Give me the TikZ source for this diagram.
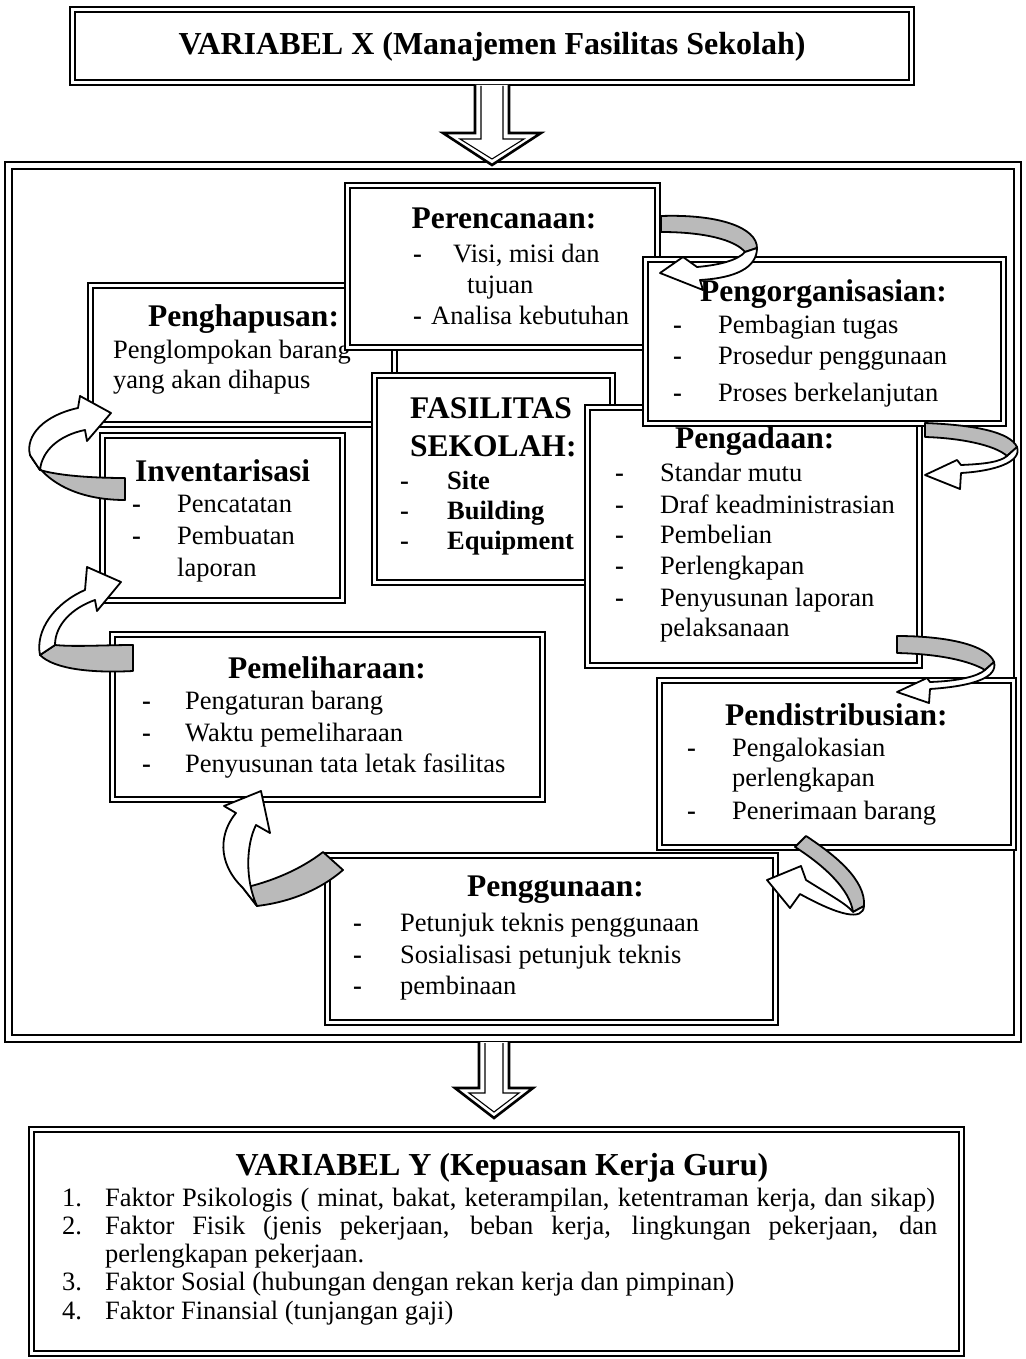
\documentclass[tikz,border=0pt]{standalone}
\usepackage{fontspec}
\setmainfont{Liberation Serif}
\usetikzlibrary{fit}
\newcommand\dbbox[6][5]{%
  \node[outerbox, fit={(#3,#4) (#5,#6)}] (#2) {};
  \draw[innerline] ([shift={(#1,#1)}]#2.north west) rectangle ([shift={(-#1,-#1)}]#2.south east);}
\newcommand\myhead[5][west]{\node[headtxt,anchor=#1] (#2) at (#3,#4) {#5};}
\newcommand\myline[4]{\node[bodytxt,anchor=west] (#1) at (#2,#3) {#4};}
\newcommand\mydash[3]{\node[bodytxt,anchor=west] (#1) at (#2,#3) {\textbf{-}};}
\begin{document}
\begin{tikzpicture}[x=1pt,y=-1pt,
  outerbox/.style={draw=black, line width=2.6pt, fill=white, inner sep=0pt, outer sep=0pt},
  innerline/.style={draw=black, line width=1.1pt},
  headtxt/.style={font=\fontsize{31.5}{36}\selectfont\bfseries, inner sep=0pt, text height=23pt, text depth=6pt},
  titletxt/.style={font=\fontsize{32}{36}\selectfont\bfseries, inner sep=0pt, text height=23pt, text depth=6pt},
  bodytxt/.style={font=\fontsize{26.5}{31}\selectfont, inner sep=0pt, text height=19pt, text depth=6pt},
  boldbody/.style={bodytxt, font=\fontsize{26.5}{31}\selectfont\bfseries},
  bigarrow/.style={draw=black, line width=2.6pt, line join=miter, fill=white},
  bigarrowin/.style={draw=black, line width=1.1pt},
  ribbonback/.style={fill=black!27, draw=black, line width=1.8pt, line join=round},
  ribbonfront/.style={fill=white, draw=black, line width=1.8pt, line join=round}]
\useasboundingbox (0,0) rectangle (1025,1359);
\fill[white] (0,0) rectangle (1025,1359);

% ---------- outer frame and top box ----------
\dbbox[7]{frame}{5}{162}{1021}{1042}
\dbbox{topbox}{70}{7}{914}{85}
\node[titletxt] (toptitle) at (492,46) {VARIABEL X (Manajemen Fasilitas Sekolah)};

% top block arrow
\draw[bigarrow] (475,85) -- (475,133) -- (443,133) -- (492,165) -- (541,133) -- (509,133) -- (509,85);
\draw[bigarrowin] (481,86) -- (481,139) -- (460,139) -- (492,159) -- (524,139) -- (503,139) -- (503,86);

% ---------- Penghapusan ----------
\dbbox{hapus}{88}{283}{397}{427}
\myhead{hapusH}{148}{318}{Penghapusan:}
\myline{hapus1}{113}{352}{Penglompokan barang}
\myline{hapus2}{113}{382}{yang akan dihapus}

% ---------- Perencanaan ----------
\dbbox{renc}{345}{183}{660}{350}
\myhead[center]{rencH}{504}{220}{Perencanaan:}
\mydash{rencD1}{413}{256}
\myline{renc1}{453}{256}{Visi, misi dan}
\myline{renc2}{467}{287}{tujuan}
\mydash{rencD2}{413}{318}
\myline{renc3}{431}{318}{Analisa kebutuhan}

% ---------- Fasilitas sekolah ----------
\dbbox{fas}{372}{373}{615}{585}
\myhead{fasH1}{410}{410}{FASILITAS}
\myhead{fasH2}{410}{448}{SEKOLAH:}
\node[boldbody,anchor=west] (fasD1) at (400,483) {-};
\node[boldbody,anchor=west] (fas1) at (447,483) {Site};
\node[boldbody,anchor=west] (fasD2) at (400,513) {-};
\node[boldbody,anchor=west] (fas2) at (447,513) {Building};
\node[boldbody,anchor=west] (fasD3) at (400,543) {-};
\node[boldbody,anchor=west] (fas3) at (447,543) {Equipment};

% ---------- Pengadaan ----------
\dbbox{adaan}{585}{405}{922}{668}
\myhead{adaanH}{675}{440}{Pengadaan:}
\mydash{adaanD1}{615}{475}\myline{adaan1}{660}{475}{Standar mutu}
\mydash{adaanD2}{615}{507}\myline{adaan2}{660}{507}{Draf keadministrasian}
\mydash{adaanD3}{615}{537}\myline{adaan3}{660}{537}{Pembelian}
\mydash{adaanD4}{615}{568}\myline{adaan4}{660}{568}{Perlengkapan}
\mydash{adaanD5}{615}{600}\myline{adaan5}{660}{600}{Penyusunan laporan}
\myline{adaan6}{660}{630}{pelaksanaan}

% ---------- Pengorganisasian ----------
\dbbox{org}{643}{257}{1006}{426}
\myhead{orgH}{700}{293}{Pengorganisasian:}
\mydash{orgD1}{673}{327}\myline{org1}{718}{327}{Pembagian tugas}
\mydash{orgD2}{673}{358}\myline{org2}{718}{358}{Prosedur penggunaan}
\mydash{orgD3}{673}{395}\myline{org3}{718}{395}{Proses berkelanjutan}

% ---------- Inventarisasi ----------
\dbbox{inv}{100}{433}{345}{603}
\myhead{invH}{135}{473}{Inventarisasi}
\mydash{invD1}{132}{506}\myline{inv1}{177}{506}{Pencatatan}
\mydash{invD2}{132}{538}\myline{inv2}{177}{538}{Pembuatan}
\myline{inv3}{177}{570}{laporan}

% ---------- Pemeliharaan ----------
\dbbox{pel}{110}{632}{545}{802}
\myhead{pelH}{228}{670}{Pemeliharaan:}
\mydash{pelD1}{142}{703}\myline{pel1}{185}{703}{Pengaturan barang}
\mydash{pelD2}{142}{735}\myline{pel2}{185}{735}{Waktu pemeliharaan}
\mydash{pelD3}{142}{766}\myline{pel3}{185}{766}{Penyusunan tata letak fasilitas}

% ---------- Pendistribusian ----------
\dbbox{dist}{657}{678}{1016}{850}
\myhead{distH}{725}{717}{Pendistribusian:}
\mydash{distD1}{687}{750}\myline{dist1}{732}{750}{Pengalokasian}
\myline{dist2}{732}{780}{perlengkapan}
\mydash{distD2}{687}{813}\myline{dist3}{732}{813}{Penerimaan barang}

% ---------- Penggunaan ----------
\dbbox{guna}{325}{853}{778}{1025}
\myhead{gunaH}{467}{888}{Penggunaan:}
\mydash{gunaD1}{353}{925}\myline{guna1}{400}{925}{Petunjuk teknis penggunaan}
\mydash{gunaD2}{353}{957}\myline{guna2}{400}{957}{Sosialisasi petunjuk teknis}
\mydash{gunaD3}{353}{988}\myline{guna3}{400}{988}{pembinaan}

% ---------- curved ribbon arrows ----------
% Perencanaan -> Pengorganisasian
\path[ribbonback] (661,216) .. controls (720,214) and (757,228) .. (757,248) -- (745,252) .. controls (735,240) and (705,232) .. (661,232) -- cycle;
\path[ribbonfront] (757,248) .. controls (757,268) and (735,278) .. (700,280) -- (703,290) -- (660,273) -- (683,257) -- (697,267) .. controls (720,265) and (738,260) .. (745,252) -- cycle;
% Pengorganisasian -> Pengadaan
\path[ribbonback] (925,423) .. controls (975,425) and (1010,432) .. (1017,447) -- (1007,456) .. controls (995,445) and (960,438) .. (925,437) -- cycle;
\path[ribbonfront] (1017,447) .. controls (1022,462) and (995,471) .. (961,473) -- (960,489) -- (925,475) -- (957,460) -- (961,465) .. controls (985,464) and (1000,462) .. (1007,456) -- cycle;
% Pengadaan -> Pendistribusian
\path[ribbonback] (897,636) .. controls (950,636) and (988,646) .. (994,662) -- (985,670) .. controls (970,661) and (940,654) .. (897,653) -- cycle;
\path[ribbonfront] (994,662) .. controls (998,677) and (975,686) .. (930,689) -- (929,703) -- (897,692) -- (927,678) -- (930,682) .. controls (960,681) and (978,676) .. (985,670) -- cycle;
% Pendistribusian -> Penggunaan
\path[ribbonback] (806,836) .. controls (835,855) and (866,880) .. (864,906) -- (853,912) .. controls (850,890) and (825,866) .. (795,847) -- cycle;
\path[ribbonfront] (864,906) .. controls (863,921) and (840,916) .. (800,894) -- (790,908) -- (767,880) -- (801,866) -- (806,880) .. controls (830,895) and (848,905) .. (853,912) -- cycle;
% Penggunaan -> Pemeliharaan
\path[ribbonback] (323,852) .. controls (300,870) and (270,882) .. (243,888) -- (257,906) .. controls (290,902) and (320,890) .. (343,870) -- cycle;
\path[ribbonfront] (243,888) .. controls (216,862) and (220,832) .. (236,813) -- (224,806) -- (261,791) -- (270,833) -- (256,825) .. controls (246,845) and (245,880) .. (257,906) -- cycle;
% Pemeliharaan -> Inventarisasi
\path[ribbonback] (55,645) .. controls (75,647) and (105,645) .. (133,645) -- (133,671) .. controls (95,673) and (55,670) .. (40,655) -- cycle;
\path[ribbonfront] (40,655) .. controls (35,630) and (55,603) .. (85,590) -- (87,567) -- (121,582) -- (97,611) -- (95,600) .. controls (72,608) and (55,625) .. (55,645) -- cycle;
% Inventarisasi -> Penghapusan
\path[ribbonback] (40,470) .. controls (60,476) and (95,478) .. (125,478) -- (125,500) .. controls (90,500) and (50,490) .. (30,455) -- cycle;
\path[ribbonfront] (30,455) .. controls (25,435) and (45,415) .. (78,408) -- (80,396) -- (111,413) -- (87,441) -- (85,430) .. controls (60,435) and (42,450) .. (40,470) -- cycle;

% bottom block arrow
\draw[bigarrow] (479,1042) -- (479,1088) -- (455,1088) -- (494,1118) -- (533,1088) -- (509,1088) -- (509,1042);
\draw[bigarrowin] (485,1043) -- (485,1093) -- (469,1093) -- (494,1112) -- (519,1093) -- (503,1093) -- (503,1043);

% ---------- Variabel Y ----------
\dbbox{ybox}{29}{1127}{964}{1356}
\node[titletxt] (ytitle) at (502,1167) {VARIABEL Y (Kepuasan Kerja Guru)};
\myline{yn1}{62}{1200}{1.}
\myline{yt1}{105}{1200}{\makebox[830pt][s]{Faktor Psikologis ( minat, bakat, keterampilan, ketentraman kerja, dan sikap)}}
\myline{yn2}{62}{1228}{2.}
\myline{yt2}{105}{1228}{\makebox[832pt][s]{Faktor Fisik (jenis pekerjaan, beban kerja, lingkungan pekerjaan, dan}}
\myline{yt2b}{105}{1256}{perlengkapan pekerjaan.}
\myline{yn3}{62}{1284}{3.}
\myline{yt3}{105}{1284}{Faktor Sosial (hubungan dengan rekan kerja dan pimpinan)}
\myline{yn4}{62}{1313}{4.}
\myline{yt4}{105}{1313}{Faktor Finansial (tunjangan gaji)}
\end{tikzpicture}
\end{document}
